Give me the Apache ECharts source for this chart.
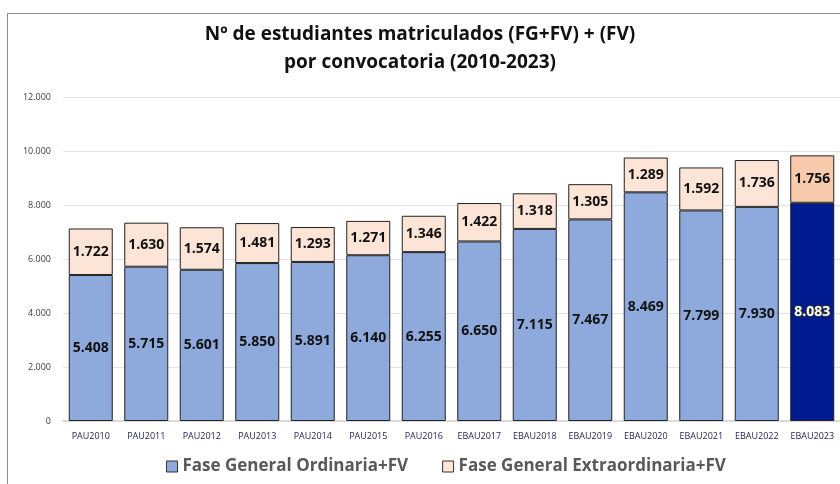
<!DOCTYPE html>
<html><head><meta charset="utf-8">
<script src="https://cdn.jsdelivr.net/npm/echarts@6/dist/echarts.min.js"></script>
<style>html,body{margin:0;padding:0;background:#fff}#c{width:840px;height:484px}</style>
</head><body><div id="c"></div>
<script>
var categories = ['PAU2010','PAU2011','PAU2012','PAU2013','PAU2014','PAU2015','PAU2016','EBAU2017','EBAU2018','EBAU2019','EBAU2020','EBAU2021','EBAU2022','EBAU2023'];
var ordinaria = [5408,5715,5601,5850,5891,6140,6255,6650,7115,7467,8469,7799,7930,8083];
var extraordinaria = [1722,1630,1574,1481,1293,1271,1346,1422,1318,1305,1289,1592,1736,1756];
var seriesNames = ['Fase General Ordinaria+FV','Fase General Extraordinaria+FV'];
var titleLines = ['Nº de estudiantes matriculados (FG+FV) + (FV)','por convocatoria (2010-2023)'];

function fmt(v){ return String(v).replace(/\B(?=(\d{3})+(?!\d))/g,'.'); }
var last = categories.length - 1;
var ordData = ordinaria.map(function(v,i){
  return i===last ? {value:v,itemStyle:{color:'#001A8F'},label:{color:'#fff',textBorderColor:'#333',textBorderWidth:2}} : v;
});
var extData = extraordinaria.map(function(v,i){
  return i===last ? {value:v,itemStyle:{color:'#F8CBAD'}} : v;
});
var font = '"Open Sans", "Liberation Sans", sans-serif';
var chart = echarts.init(document.getElementById('c'));
chart.setOption({
  animation:false,
  title:{text:titleLines.join('\n'),left:'center',top:16,padding:[5,5,5,19],textStyle:{fontFamily:font,fontWeight:'bold',fontSize:19,color:'#111',lineHeight:28}},
  legend:{bottom:4,left:161,itemGap:34,itemWidth:11,itemHeight:11,icon:'rect',
    textStyle:{fontFamily:font,fontWeight:'bold',fontSize:17,color:'#595959'},
    data:[{name:seriesNames[0],itemStyle:{color:'#8EA9DB',borderColor:'#333',borderWidth:1}},{name:seriesNames[1],itemStyle:{color:'#FCE4D6',borderColor:'#333',borderWidth:1}}]},
  grid:{left:63,width:778,top:97,height:324},
  xAxis:{type:'category',data:categories,axisTick:{show:false},axisLine:{lineStyle:{color:'#D9D9D9',width:2}},
    axisLabel:{fontFamily:font,fontSize:9,color:'#1F1F4F',margin:11,interval:0}},
  yAxis:{type:'value',min:0,max:12000,interval:2000,splitLine:{lineStyle:{color:'#E3E3E3'}},
    axisLabel:{fontFamily:font,fontSize:9,color:'#404040',margin:12,formatter:function(v){return fmt(v);}}},
  series:[
    {name:seriesNames[0],type:'bar',stack:'t',barWidth:44,data:ordData,
     itemStyle:{color:'#8EA9DB',borderColor:'#222',borderWidth:1},
     label:{show:true,position:'inside',fontFamily:font,fontWeight:'bold',fontSize:14,color:'#111',formatter:function(p){return fmt(p.value);}}},
    {name:seriesNames[1],type:'bar',stack:'t',barWidth:44,data:extData,
     itemStyle:{color:'#FCE4D6',borderColor:'#222',borderWidth:1},
     label:{show:true,position:'inside',fontFamily:font,fontWeight:'bold',fontSize:14,color:'#111',formatter:function(p){return fmt(p.value);}}}
  ],
  graphic:[
    {type:'line',shape:{x1:7,y1:13.5,x2:840,y2:13.5},style:{stroke:'#8C8C8C',lineWidth:1}},
    {type:'line',shape:{x1:7.5,y1:13,x2:7.5,y2:484},style:{stroke:'#8C8C8C',lineWidth:1}}
  ]
});
</script></body></html>
